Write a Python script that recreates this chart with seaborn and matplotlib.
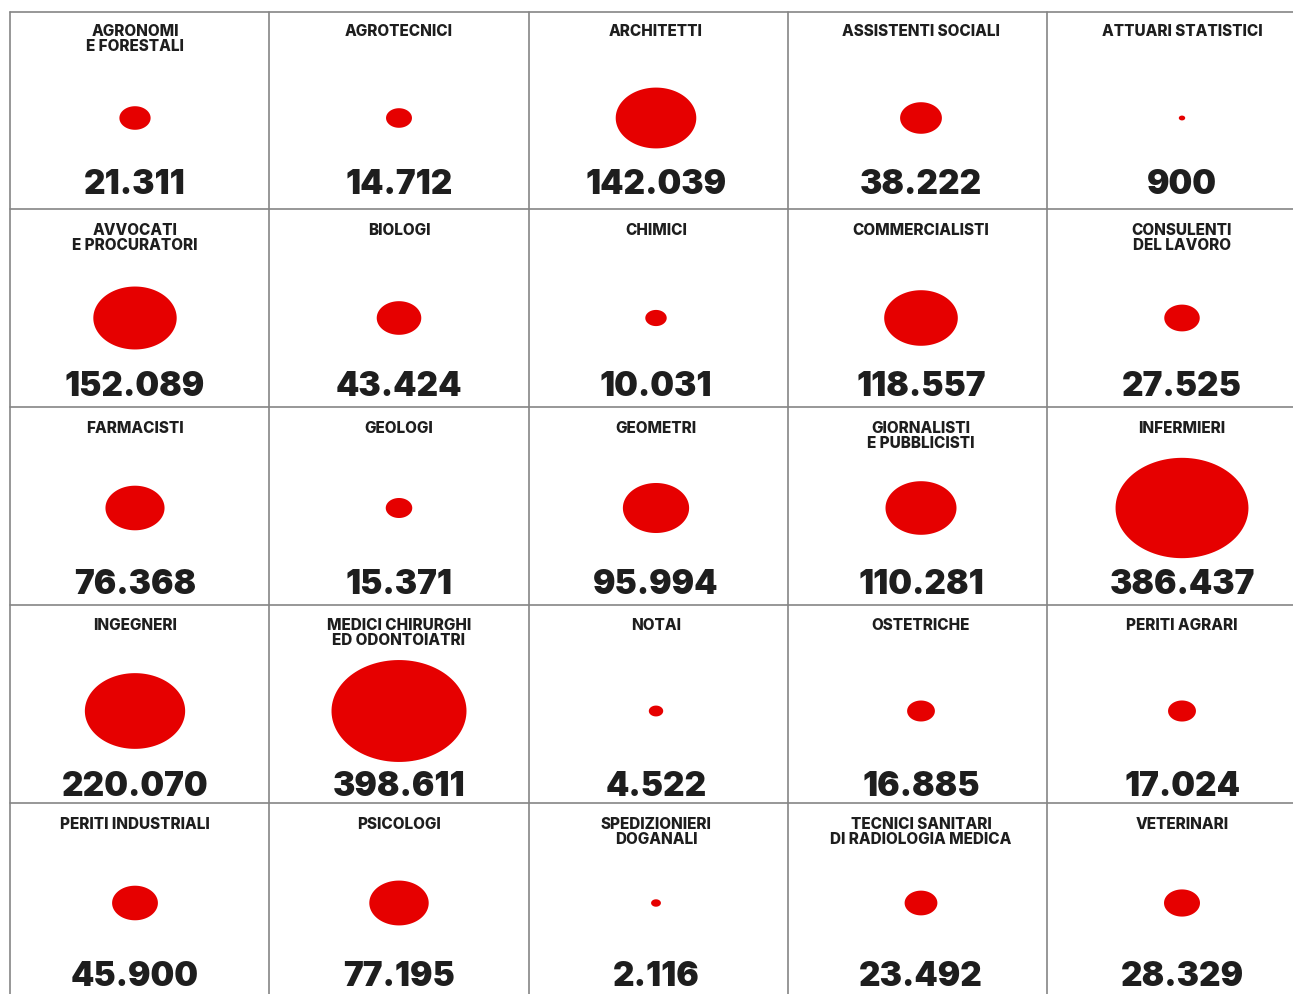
import numpy as np
import pandas as pd
import matplotlib
matplotlib.use("Agg")
import matplotlib.pyplot as plt
from matplotlib.path import Path
import seaborn as sns

# ---- data ----
categories = [
    "AGRONOMI\nE FORESTALI", "AGROTECNICI", "ARCHITETTI", "ASSISTENTI SOCIALI", "ATTUARI STATISTICI",
    "AVVOCATI\nE PROCURATORI", "BIOLOGI", "CHIMICI", "COMMERCIALISTI", "CONSULENTI\nDEL LAVORO",
    "FARMACISTI", "GEOLOGI", "GEOMETRI", "GIORNALISTI\nE PUBBLICISTI", "INFERMIERI",
    "INGEGNERI", "MEDICI CHIRURGHI\nED ODONTOIATRI", "NOTAI", "OSTETRICHE", "PERITI AGRARI",
    "PERITI INDUSTRIALI", "PSICOLOGI", "SPEDIZIONIERI\nDOGANALI", "TECNICI SANITARI\nDI RADIOLOGIA MEDICA", "VETERINARI",
]
values = [
    21311, 14712, 142039, 38222, 900,
    152089, 43424, 10031, 118557, 27525,
    76368, 15371, 95994, 110281, 386437,
    220070, 398611, 4522, 16885, 17024,
    45900, 77195, 2116, 23492, 28329,
]

# ---- layout (pixels) ----
W, H, DPI = 1293, 994, 100
col_centers = [135, 399, 656, 921, 1182]
col_edges = [10, 269, 529, 788, 1047]
row_edges = [12, 209, 407, 605, 803]
circle_y = [118, 318, 508, 711, 903]
number_y = [185, 387, 585, 787, 977]
title_y = [32, 231, 429, 626, 825]

RED = "#e60000"
TXT = "#1e1e1e"
LINE = "#858585"

sns.set_theme(style="white")
plt.rcParams["font.family"] = ["Inter", "DejaVu Sans"]

df = pd.DataFrame({"category": categories, "value": values})
df["row"] = np.arange(len(df)) // 5
df["col"] = np.arange(len(df)) % 5
df["cx"] = [col_centers[c] for c in df["col"]]
df["cy"] = [circle_y[r] for r in df["row"]]

fig = plt.figure(figsize=(W / DPI, H / DPI), dpi=DPI)
ax = fig.add_axes([0, 0, 1, 1])

# grid lines
for x in col_edges:
    ax.plot([x, x], [row_edges[0], H], color=LINE, lw=1.2, zorder=1)
for y in row_edges:
    ax.plot([col_edges[0], W], [y, y], color=LINE, lw=1.2, zorder=1)

# ellipse marker (artwork is horizontally stretched)
t = np.linspace(0, 2 * np.pi, 120)
ell = Path(np.column_stack([np.cos(t), 0.755 * np.sin(t)]), closed=True)

vmax = max(values)
S = (135 * 72 / DPI) ** 2
sns.scatterplot(data=df, x="cx", y="cy", size="value", sizes=(0, S),
                size_norm=(0, vmax), marker=ell, color=RED, linewidth=0,
                legend=False, ax=ax, zorder=3)
ax.set_xlim(0, W)
ax.set_ylim(H, 0)
ax.axis("off")

for _, r in df.iterrows():
    ax.text(r["cx"], title_y[r["row"]] - 8, r["category"], ha="center", va="top",
            fontsize=11, fontweight=800, color=TXT, linespacing=1.0,
            family=["Inter", "DejaVu Sans"])
    ax.text(r["cx"], number_y[r["row"]], f"{r['value']:,}".replace(",", "."),
            ha="center", va="center", fontsize=24, fontweight=900, color=TXT,
            family=["Inter", "DejaVu Sans"])

fig.savefig("out.png", dpi=DPI)
